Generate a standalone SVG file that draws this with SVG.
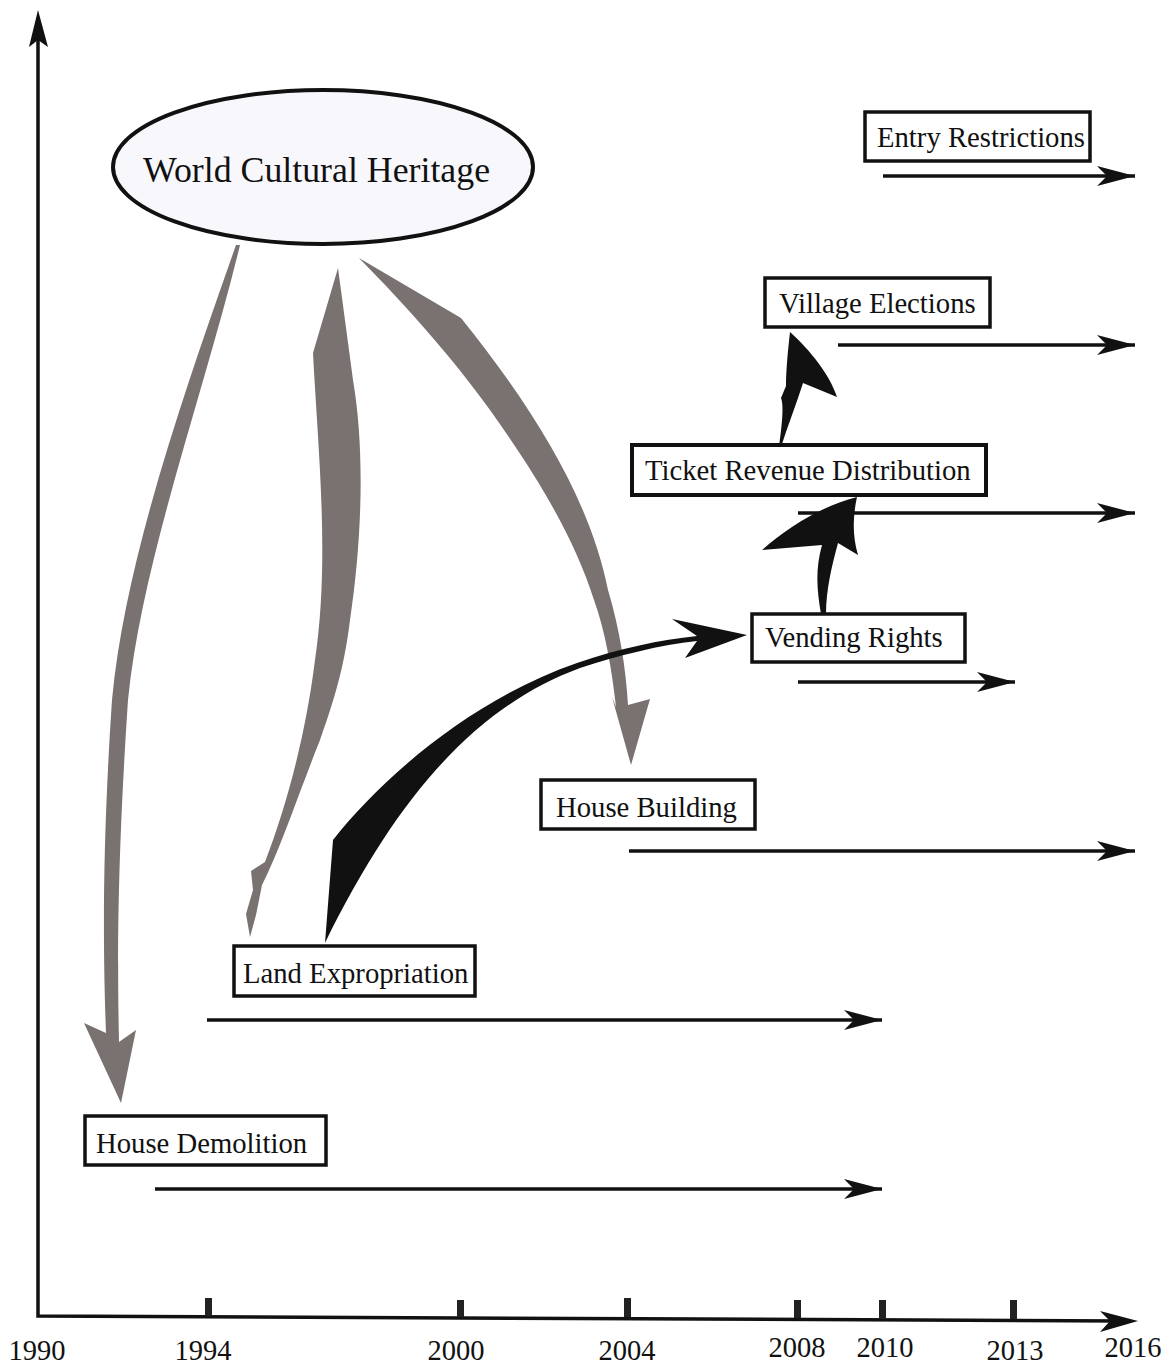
<svg xmlns="http://www.w3.org/2000/svg" width="1170" height="1365" viewBox="0 0 1170 1365">
<defs>
<style>
.lbl{font-family:"Liberation Serif","Times New Roman",serif;font-size:28.7px;fill:#111}
.yr{font-family:"Liberation Serif","Times New Roman",serif;font-size:28.5px;fill:#111;text-anchor:middle}
.box{fill:#fff;stroke:#111;stroke-width:3.5}
.tl{stroke:#111;stroke-width:3.5;fill:none;marker-end:url(#ah)}
.gray{fill:#7a7171}
.blk{fill:#111}
.tick{fill:#222}
</style>
<marker id="ah" markerUnits="userSpaceOnUse" markerWidth="44" markerHeight="26" viewBox="-40 -13 44 26" refX="0" refY="0" orient="auto">
<path d="M0,0 L-38,-10 L-28,0 L-38,10 Z" fill="#111"/>
</marker>
</defs>
<rect width="1170" height="1365" fill="#fff"/>

<g id="axes">
<path d="M38,30 L38,1316 L1122,1321" fill="none" stroke="#111" stroke-width="3.5"/>
<path d="M38,10 L48,47 L38,40 L29,47 Z" fill="#111"/>
<path d="M1138,1321 L1100,1311 L1110,1321 L1100,1332 Z" fill="#111"/>
<rect class="tick" x="205" y="1298" width="7" height="18"/>
<rect class="tick" x="457" y="1300" width="7" height="17"/>
<rect class="tick" x="624" y="1298" width="7" height="19"/>
<rect class="tick" x="794" y="1300" width="7" height="18"/>
<rect class="tick" x="879" y="1300" width="7" height="18"/>
<rect class="tick" x="1010" y="1300" width="7" height="19"/>
<text class="yr" x="37" y="1360">1990</text>
<text class="yr" x="203" y="1360">1994</text>
<text class="yr" x="456" y="1360">2000</text>
<text class="yr" x="627" y="1360">2004</text>
<text class="yr" x="797" y="1357">2008</text>
<text class="yr" x="885" y="1357">2010</text>
<text class="yr" x="1015" y="1360">2013</text>
<text class="yr" x="1133" y="1357">2016</text>
</g>

<g id="connectors">
<line class="tl" x1="883" y1="176" x2="1135" y2="176"/>
<line class="tl" x1="838" y1="345" x2="1135" y2="345"/>
<line class="tl" x1="798" y1="513" x2="1135" y2="513"/>
<line class="tl" x1="798" y1="682" x2="1015" y2="682"/>
<line class="tl" x1="629" y1="851" x2="1135" y2="851"/>
<line class="tl" x1="207" y1="1020" x2="882" y2="1020"/>
<line class="tl" x1="155" y1="1189" x2="882" y2="1189"/>
<path class="gray" d="M236,245 C185,390 125,560 112,700 C102,850 103,950 106,1033 L84,1023 L121,1103 L136,1030 L119,1042 C117,950 118,850 128,700 C142,560 205,390 240,245 Z"/>
<path class="gray" d="M338,268 L313,353 C318,450 330,560 315,660 C305,740 285,810 265,862 L251,871 L253,890 L246,914 L250,937 L256,915 L262,885 C280,850 300,790 320,740 C338,690 345,660 350,620 C362,540 365,450 353,380 Z"/>
<path class="gray" d="M359,258 L461,318 C535,410 590,500 608,590 C620,630 626,670 628,705 L650,699 L631,765 L612,697 L616,707 C612,670 605,630 594,600 C575,540 540,480 490,410 C450,355 410,310 359,258 Z"/>
<path class="blk" d="M325,943 L333,840 C380,780 470,700 577,663 C620,648 660,640 697,636 L672,619 L747,635 L685,658 L697,641 C660,645 620,655 580,668 C480,705 400,790 325,943 Z"/>
<path class="blk" d="M821,614 C817,590 815,570 822,545 L762,550 C790,525 825,505 857,497 C853,515 852,535 858,555 L838,543 C832,565 826,590 826,614 Z"/>
<path class="blk" d="M779,447 C782,425 784,405 781,398 L786,386 C786,370 788,350 790,332 C810,350 830,375 837,397 L803,383 C796,405 788,425 781,447 Z"/>
</g>

<g id="node-world">
<ellipse cx="323" cy="167" rx="210" ry="77" fill="#f8f8fc" stroke="#111" stroke-width="4"/>
<text x="143" y="182" style="font-family:'Liberation Serif','Times New Roman',serif;font-size:35.8px;fill:#111">World Cultural Heritage</text>
</g>
<g id="node-entry">
<rect class="box" x="865" y="112" width="225" height="49"/>
<text class="lbl" x="877" y="147">Entry Restrictions</text>
</g>
<g id="node-village">
<rect class="box" x="765" y="278" width="225" height="49"/>
<text class="lbl" x="779" y="313">Village Elections</text>
</g>
<g id="node-ticket">
<rect class="box" x="632" y="445" width="354" height="50" style="stroke-width:4"/>
<text class="lbl" x="645" y="480">Ticket Revenue Distribution</text>
</g>
<g id="node-vending">
<rect class="box" x="752" y="614" width="213" height="48"/>
<text class="lbl" x="765" y="647">Vending Rights</text>
</g>
<g id="node-housebuilding">
<rect class="box" x="541" y="780" width="214" height="49"/>
<text class="lbl" x="556" y="817">House Building</text>
</g>
<g id="node-land">
<rect class="box" x="234" y="946" width="241" height="50"/>
<text class="lbl" x="243" y="983">Land Expropriation</text>
</g>
<g id="node-demolition">
<rect class="box" x="85" y="1116" width="241" height="49"/>
<text class="lbl" x="96" y="1153">House Demolition</text>
</g>
</svg>
